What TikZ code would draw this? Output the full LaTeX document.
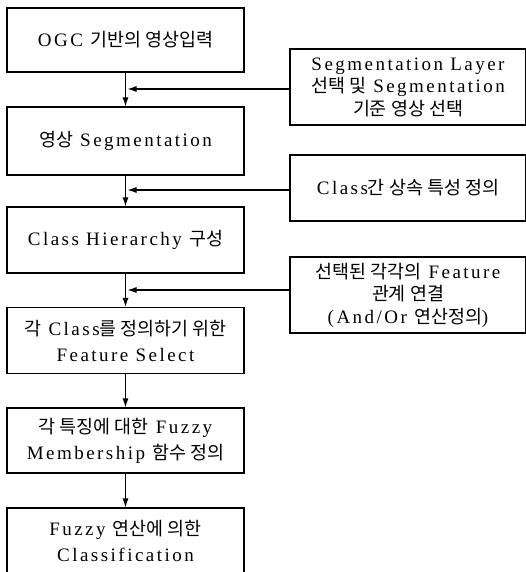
\documentclass[tikz,border=0pt]{standalone}
\usepackage{fontspec}
\setmainfont{Liberation Serif}[LetterSpace=13]
\newfontfamily\kr{Noto Sans CJK KR}[Scale=0.97]
\usetikzlibrary{arrows.meta}
\begin{document}
\begin{tikzpicture}[x=1pt,y=-1pt,
  lbox/.style={draw, line width=1.1pt, minimum width=237pt, align=center, inner sep=0pt,
    font=\fontsize{19}{26}\selectfont},
  rbox/.style={draw, line width=1.1pt, minimum width=236pt, align=center, inner sep=0pt,
    font=\fontsize{19}{22.5}\selectfont},
  arr/.style={line width=1.1pt, -{Latex[length=9pt,width=6pt]}}]
\useasboundingbox (0,0) rectangle (525,572);
\node[lbox, minimum height=64pt] (b1) at (125.5,40) {OGC {\kr 기반의 영상입력}};
\node[lbox, minimum height=68pt] (b2) at (125.5,141) {{\kr 영상} Segmentation};
\node[lbox, minimum height=66pt] (b3) at (125.5,240) {Class Hierarchy {\kr 구성}};
\node[lbox, minimum height=66pt] (b4) at (125.5,340.5) {{\kr 각} Class{\kr 를 정의하기 위한}\\Feature Select};
\node[lbox, minimum height=65pt] (b5) at (125.5,440.5) {{\kr 각 특징에 대한} Fuzzy\\Membership {\kr 함수 정의}};
\node[lbox, minimum height=66pt] (b6) at (125.5,541) {Fuzzy {\kr 연산에 의한}\\Classification};
\node[rbox, minimum height=76pt] (r1) at (408,87) {Segmentation Layer\\{\kr 선택 및} Segmentation\\{\kr 기준 영상 선택}};
\node[rbox, minimum height=66pt] (r2) at (408,188) {Class{\kr 간 상속 특성 정의}};
\node[rbox, minimum height=76pt] (r3) at (408,295) {{\kr 선택된 각각의} Feature\\{\kr 관계 연결}\\(And/Or {\kr 연산정의})};
\draw[arr] (b1) -- (b2);
\draw[arr] (b2) -- (b3);
\draw[arr] (b3) -- (b4);
\draw[arr] (b4) -- (b5);
\draw[arr] (b5) -- (b6);
\draw[arr] ([yshift=-2pt]r1.west) -- ([yshift=-2pt,xshift=2pt]r1.west -| b1.south);
\draw[arr] ([yshift=-2pt]r2.west) -- ([yshift=-2pt,xshift=2pt]r2.west -| b1.south);
\draw[arr] ([yshift=5pt]r3.west) -- ([yshift=5pt,xshift=2pt]r3.west -| b1.south);
\end{tikzpicture}
\end{document}
